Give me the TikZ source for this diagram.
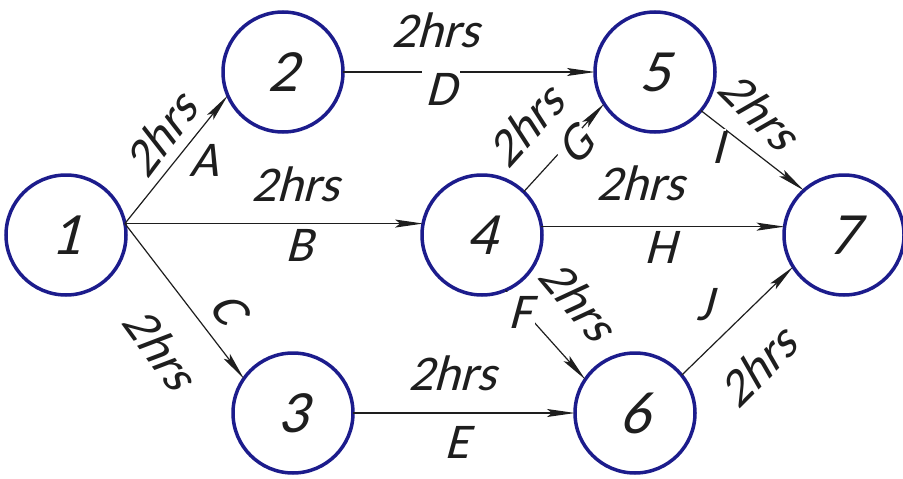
\documentclass[tikz,border=0pt]{standalone}
\usepackage{fontspec}
\usetikzlibrary{arrows.meta}
\newfontfamily\gost{Carlito}[FakeSlant=0.27]
\definecolor{nodeblue}{RGB}{28,28,140}
\definecolor{ink}{RGB}{30,30,30}
\begin{document}
\begin{tikzpicture}[x=1pt,y=-1pt,
  ev/.style={circle, draw=nodeblue, line width=3.5pt, minimum size=120pt, inner sep=0pt, outer sep=0pt,
    text=ink, font=\gost\fontsize{60}{60}\selectfont},
  act/.style={draw=ink, line width=1.2pt, -{Stealth[length=28pt,width=8pt,inset=5pt]}},
  lab/.style={text=ink, inner sep=1pt, font=\gost\fontsize{50}{50}\selectfont},
  cut/.style={lab, fill=white, inner sep=4pt}]
\useasboundingbox[fill=white] (0,0) rectangle (903,479);
% events
\node[ev] (n1) at (66,235) {1};
\node[ev] (n2) at (283,72) {2};
\node[ev] (n5) at (655,72) {5};
\node[ev] (n4) at (482,235) {4};
\node[ev] (n7) at (844,235) {7};
\node[ev] (n3) at (293,413) {3};
\node[ev] (n6) at (635,413) {6};
% activities
\draw[act] (n1.11) -- (n2.203);
\draw[act] (n1.11) -- (n4.169);
\draw[act] (n1.11) -- (n3.145);
\draw[act] (n2.east) -- (n5.west);
\draw[act] (n4.46) -- (n5.212);
\draw[act] (n4.8) -- (n7.172);
\draw[act] (n4.-67) -- (n6.146);
\draw[act] (n5.-40) -- (n7.132);
\draw[act] (n3.east) -- (n6.west);
\draw[act] (n6.39) -- (n7.212);
% labels
\node[lab, rotate=53] (tA) at (160,135) {2hrs};
\node[lab] (lA) at (204,160) {A};
\node[lab] (tB) at (295,184) {2hrs};
\node[cut] (lB) at (299,245) {B};
\node[lab, rotate=-54] (tC) at (160,348) {2hrs};
\node[lab, rotate=-54] (lC) at (228,308) {C};
\node[lab] (tD) at (435,30) {2hrs};
\node[cut] (lD) at (441,89) {D};
\node[lab] (tE) at (452,373) {2hrs};
\node[lab] (lE) at (457,442) {E};
\node[cut] (lF) at (520,312) {F};
\node[lab, rotate=-50] (tF) at (578,300) {2hrs};
\node[lab, rotate=48] (tG) at (525,126) {2hrs};
\node[cut, rotate=48, inner sep=2pt] (lG) at (575,146) {G};
\node[lab] (tH) at (640,183) {2hrs};
\node[cut] (lH) at (660,247) {H};
\node[lab, rotate=-45] (tI) at (759,110) {2hrs};
\node[cut, inner sep=2pt] (lI) at (718,147) {I};
\node[lab] (lJ) at (704,305) {J};
\node[lab, rotate=45] (tJ) at (757,367) {2hrs};
\end{tikzpicture}
\end{document}
